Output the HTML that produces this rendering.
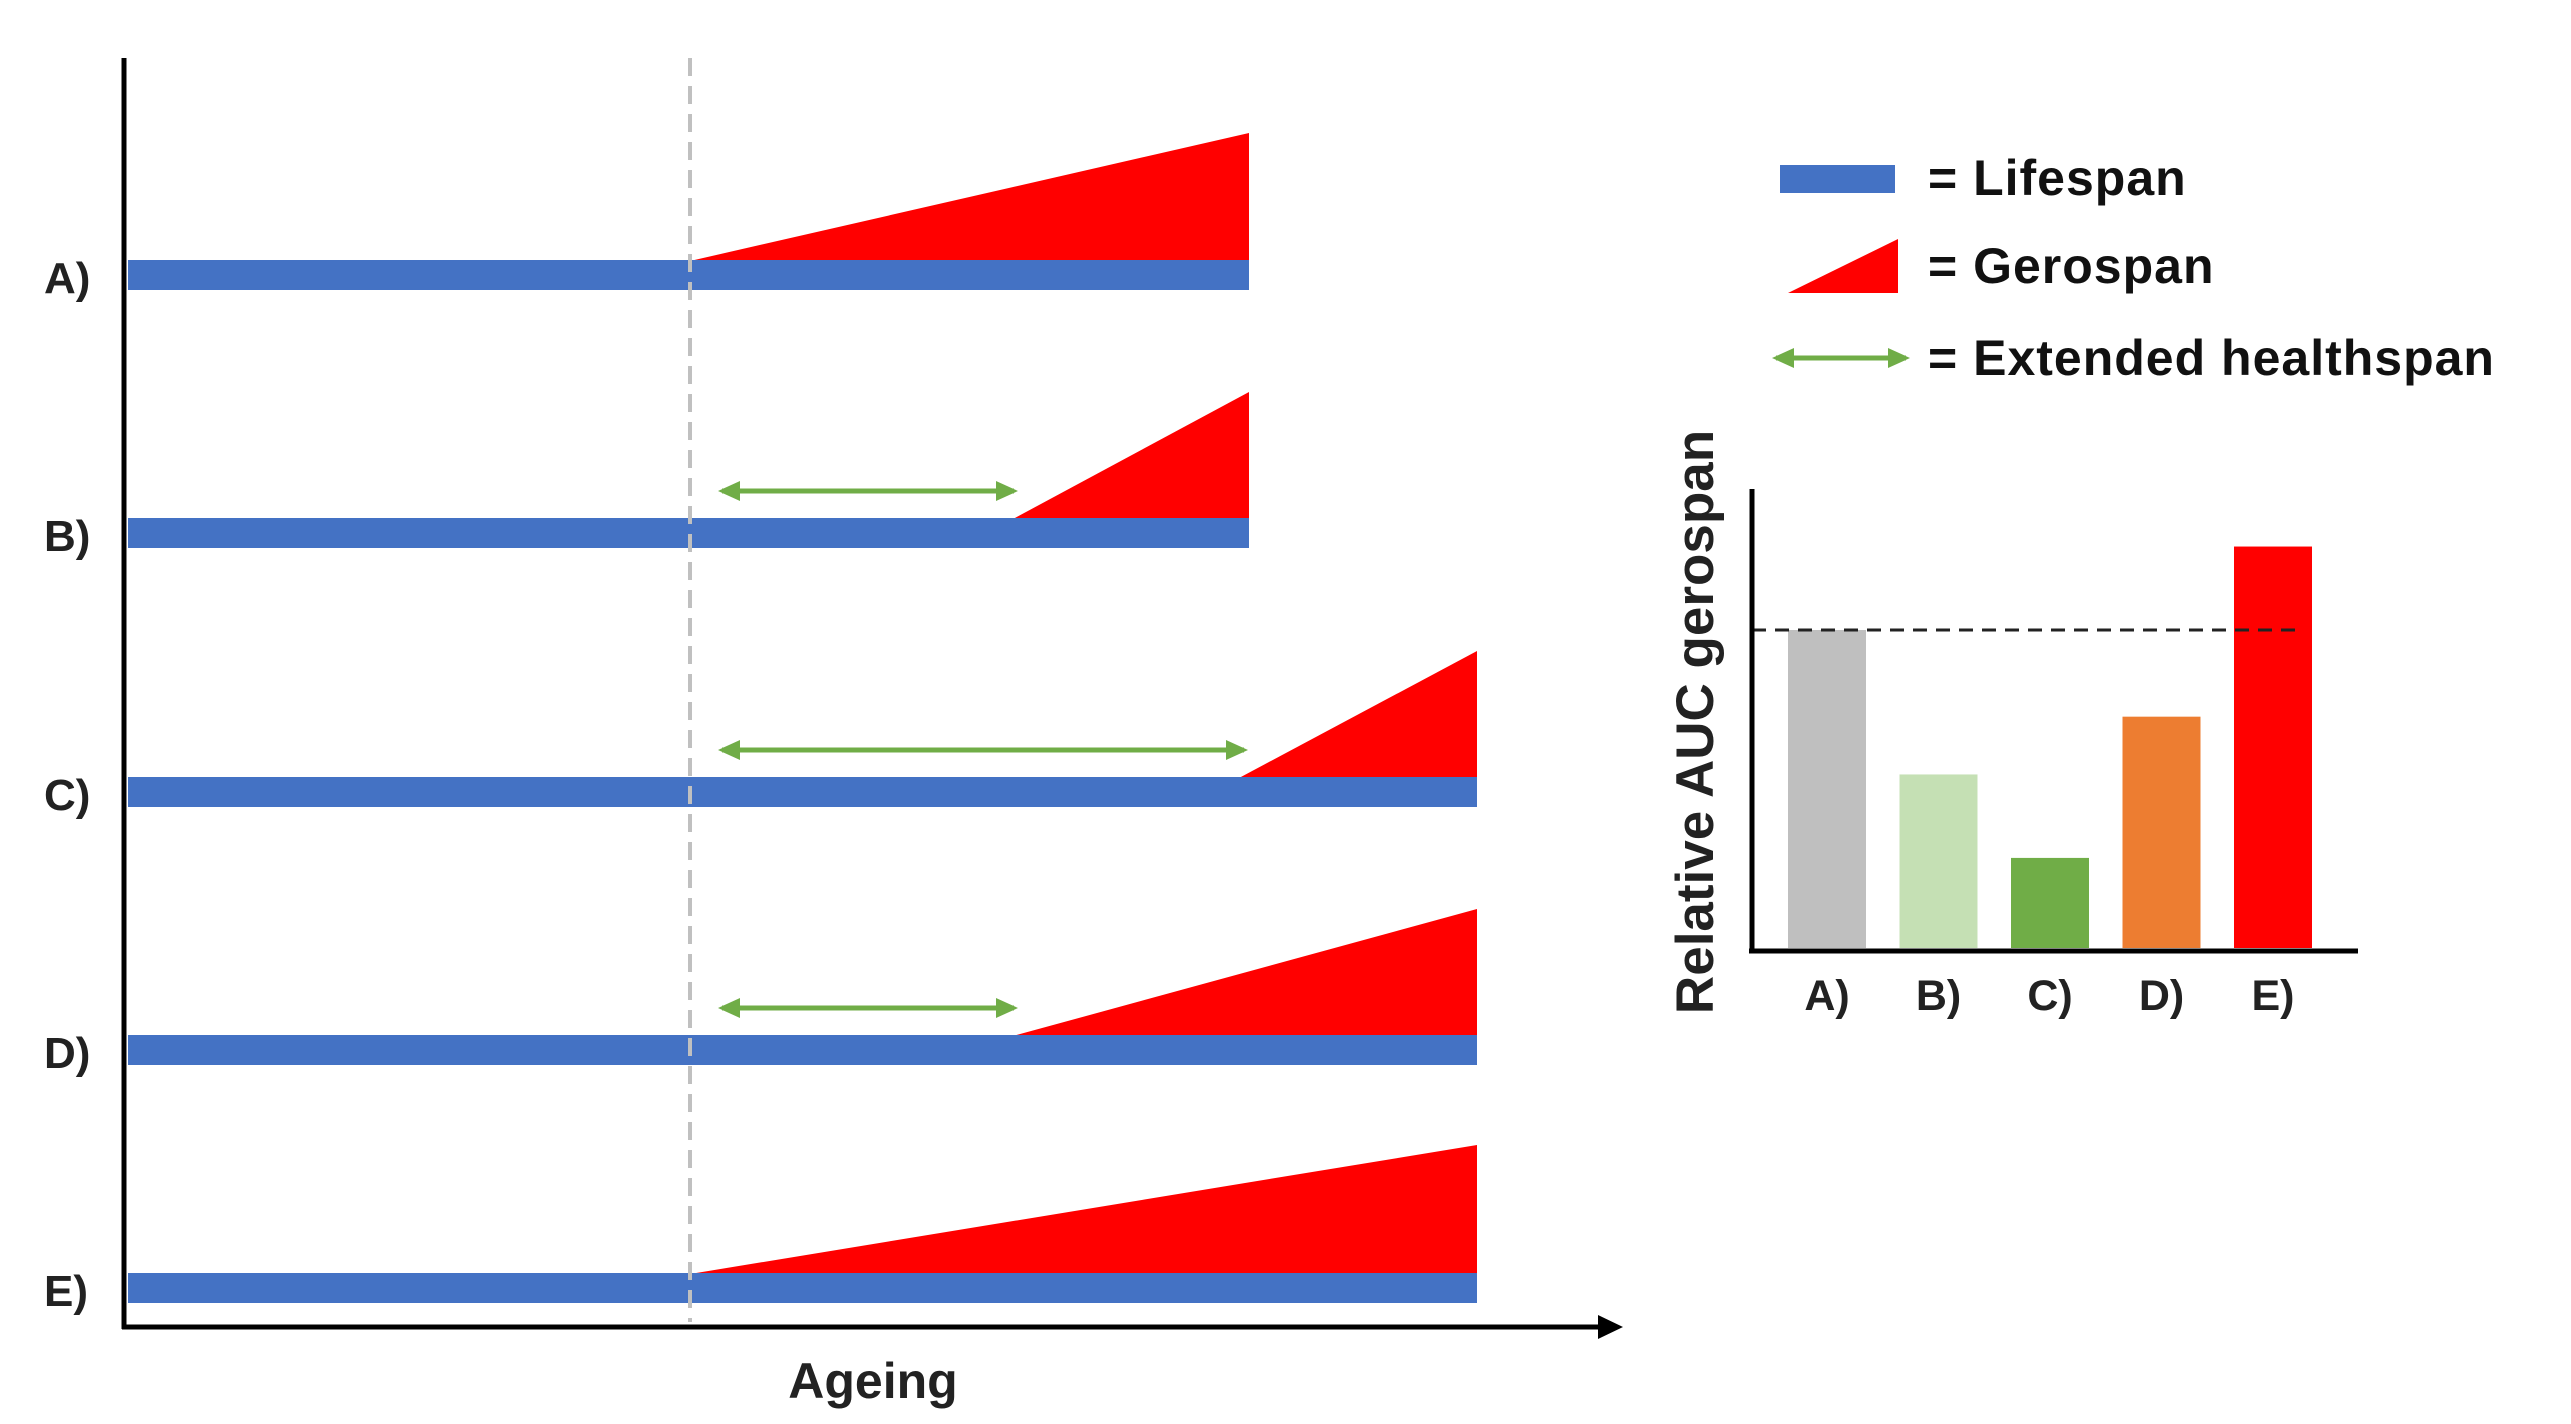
<!DOCTYPE html>
<html><head><meta charset="utf-8"><style>
html,body{margin:0;padding:0;background:#fff;}
svg{display:block;font-family:"Liberation Sans",sans-serif;font-weight:bold;}
</style></head><body>
<svg width="2571" height="1424" viewBox="0 0 2571 1424">
<defs>
<marker id="ah" markerWidth="22" markerHeight="20" refX="18" refY="10" orient="auto-start-reverse" markerUnits="userSpaceOnUse"><path d="M0,0 L22,10 L0,20 z" fill="#70ad47"/></marker>
</defs>
<g id="timeline"></g>
<g id="legend">
<rect x="1780" y="165" width="115" height="28" fill="#4472c4"/>
<text x="1928" y="195" font-size="50" letter-spacing="1" fill="#111">= Lifespan</text>
<polygon points="1788,293 1898,239 1898,293" fill="#ff0000"/>
<text x="1928" y="283" font-size="50" letter-spacing="1" fill="#111">= Gerospan</text>
<line x1="1776" y1="358" x2="1906" y2="358" stroke="#70ad47" stroke-width="5" marker-start="url(#ah)" marker-end="url(#ah)"/>
<text x="1928" y="375" font-size="50" letter-spacing="1" fill="#111">= Extended healthspan</text>
</g>
<g id="barchart"></g>
</svg>
<script>
const rowLabels = ["A)","B)","C)","D)","E)"];
const rowY = [275, 533, 792, 1050, 1288];
const lifespanEnd = [1249, 1249, 1477, 1477, 1477];
const gerospanStart = [690, 1013, 1239, 1013, 690];
const gerospanHeight = [128, 127, 127, 127, 129];
const healthspanEnd = [null, 1018, 1248, 1018, null];
const barCats = ["A)","B)","C)","D)","E)"];
const barVals = [1.0, 0.55, 0.29, 0.73, 1.26];
const barColors = ["#bfbfbf","#c5e0b4","#70ad47","#ed7d31","#ff0000"];
const refLine = 1.0;

const NS="http://www.w3.org/2000/svg";
function mk(tag, attrs, parent){const e=document.createElementNS(NS,tag);for(const k in attrs)e.setAttribute(k,attrs[k]);parent.appendChild(e);return e;}
const tl=document.getElementById('timeline');
let e;
e=mk('line',{x1:124,y1:58,x2:124,y2:1329,stroke:'#000','stroke-width':5},tl);


e=mk('line',{x1:122,y1:1327,x2:1600,y2:1327,stroke:'#000','stroke-width':5},tl);


e=mk('polygon',{points:'1598,1315 1623,1327 1598,1339',fill:'#000'},tl);


e=mk('text',{x:873,y:1398,'font-size':50,'text-anchor':'middle',fill:'#222'},tl);
e.textContent='Ageing';


const X0=128;
rowLabels.forEach((lab,i)=>{
  const y=rowY[i];
  let p=mk('polygon',{points:`${gerospanStart[i]},${y-14} ${lifespanEnd[i]},${y-14-gerospanHeight[i]} ${lifespanEnd[i]},${y-14}`,fill:'#ff0000'},tl);
  
  
  let r=mk('rect',{x:X0,y:y-15,width:lifespanEnd[i]-X0,height:30,fill:'#4472c4'},tl);
  
  
  let t=mk('text',{x:44,y:y+18,'font-size':44,fill:'#222'},tl);
  t.textContent=lab;
  
  
  if(healthspanEnd[i]!==null){
    let a=mk('line',{x1:722,y1:y-42,x2:healthspanEnd[i]-4,y2:y-42,stroke:'#70ad47','stroke-width':5,'marker-start':'url(#ah)','marker-end':'url(#ah)'},tl);
    
    
  }
});
e=mk('line',{x1:690,y1:58,x2:690,y2:1322,stroke:'#c0c0c0','stroke-width':4,'stroke-dasharray':'18,10'},tl);



const bc=document.getElementById('barchart');
const base=951, scale=321, bx0=1788, step=111.5, bw=78;
const yS=v=>base-v*scale;
barVals.forEach((v,i)=>{
  let r=mk('rect',{x:bx0+i*step,y:yS(v),width:bw,height:base-yS(v)-3,fill:barColors[i]},bc);
  
  
  let t=mk('text',{x:bx0+i*step+bw/2,y:1010,'font-size':43,'text-anchor':'middle',fill:'#222'},bc);
  t.textContent=barCats[i];
  
  
});
e=mk('line',{x1:1752,y1:yS(refLine),x2:2302,y2:yS(refLine),stroke:'#222','stroke-width':3,'stroke-dasharray':'14,9'},bc);


e=mk('line',{x1:1752,y1:489,x2:1752,y2:953,stroke:'#000','stroke-width':5},bc);


e=mk('line',{x1:1749,y1:951,x2:2358,y2:951,stroke:'#000','stroke-width':5},bc);


e=mk('text',{x:0,y:0,'font-size':53,'text-anchor':'middle',fill:'#222',transform:'translate(1713,722) rotate(-90)'},bc);
e.textContent='Relative AUC gerospan';


</script>
</body></html>
